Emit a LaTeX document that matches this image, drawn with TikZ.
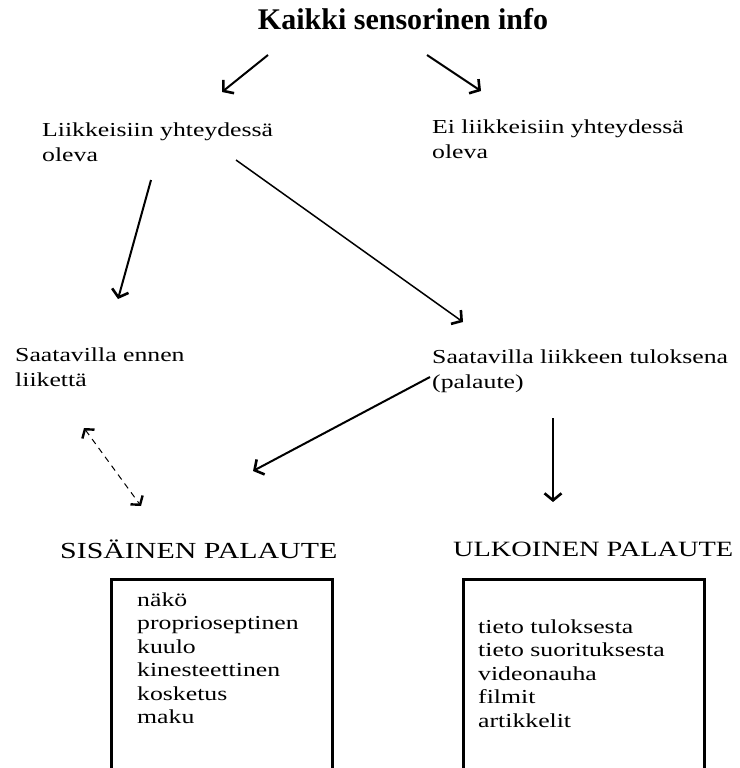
\documentclass[tikz,border=0pt]{standalone}
\usepackage{fontspec}
\setmainfont{Liberation Serif}
\newfontfamily\widefont[FakeStretch=1.3]{Liberation Serif}
\usetikzlibrary{arrows.meta}
\tikzset{
  lbl/.style={anchor=base west, inner sep=0pt, align=left, font=\widefont\fontsize{19.8}{25}\selectfont},
  head/.style={anchor=base west, inner sep=0pt, font=\widefont\fontsize{23}{28}\selectfont},
  arr/.style={line width=2pt, -{Straight Barb[length=7pt,width=17pt,line width=2.6pt]}},
  thinarr/.style={line width=1.5pt, -{Straight Barb[length=7pt,width=17pt,line width=2.6pt]}},
  dasharr/.style={line width=1pt, dash pattern=on 6pt off 5pt, {Straight Barb[length=6pt,width=15pt,line width=2.4pt]}-{Straight Barb[length=6pt,width=15pt,line width=2.4pt]}},
  boxst/.style={draw, line width=2.5pt, anchor=north west, inner sep=0pt},
  itemst/.style={anchor=base west, inner sep=0pt, align=left, font=\widefont\fontsize{19.8}{23.5}\selectfont}
}
\begin{document}
\begin{tikzpicture}[x=1pt,y=-1pt]
\useasboundingbox (0,0) rectangle (739,768);
\clip (0,0) rectangle (739,768);
\fill[white] (0,0) rectangle (739,768);

\node[anchor=base, inner sep=0pt, font=\bfseries\fontsize{30}{32}\selectfont] (title) at (403,30) {Kaikki sensorinen info};

% multi-line nodes: base anchor = baseline of last line
\node[lbl] (liik) at (42,161) {Liikkeisiin yhteydessä\\oleva};
\node[lbl] (eiliik) at (432,158) {Ei liikkeisiin yhteydessä\\oleva};
\node[lbl] (ennen) at (15,386) {Saatavilla ennen\\liikettä};
\node[lbl] (tulos) at (432,388) {Saatavilla liikkeen tuloksena\\(palaute)};

\node[head] (sis) at (60,558) {SISÄINEN PALAUTE};
\node[head, font=\widefont\fontsize{21.8}{28}\selectfont] (ulk) at (453,556) {ULKOINEN PALAUTE};

\node[boxst, minimum width=221pt, minimum height=200pt] (sisbox) at (110,578) {};
\node[boxst, minimum width=241pt, minimum height=200pt] (ulkbox) at (462,578) {};

\node[itemst] (sislist) at (137,723.5) {näkö\\proprioseptinen\\kuulo\\kinesteettinen\\kosketus\\maku};
\node[itemst] (ulklist) at (478,727) {tieto tuloksesta\\tieto suorituksesta\\videonauha\\filmit\\artikkelit};

% arrow end points
\coordinate (a1s) at (268,55);  \coordinate (a1e) at (222,92);
\coordinate (a2s) at (427,55);  \coordinate (a2e) at (481,91);
\coordinate (a3s) at (151,180); \coordinate (a3e) at (118,299);
\coordinate (a4s) at (236,160); \coordinate (a4e) at (463,322);
\coordinate (a5s) at (430,377); \coordinate (a5e) at (253,471);
\coordinate (a6s) at (553,418); \coordinate (a6e) at (553,502);
\coordinate (a7s) at (84,428);  \coordinate (a7e) at (141,506);

\draw[arr] (a1s) -- (a1e);
\draw[arr] (a2s) -- (a2e);
\draw[arr] (a3s) -- (a3e);
\draw[thinarr] (a4s) -- (a4e);
\draw[arr] (a5s) -- (a5e);
\draw[arr] (a6s) -- (a6e);
\draw[dasharr] (a7s) -- (a7e);
\end{tikzpicture}
\end{document}
